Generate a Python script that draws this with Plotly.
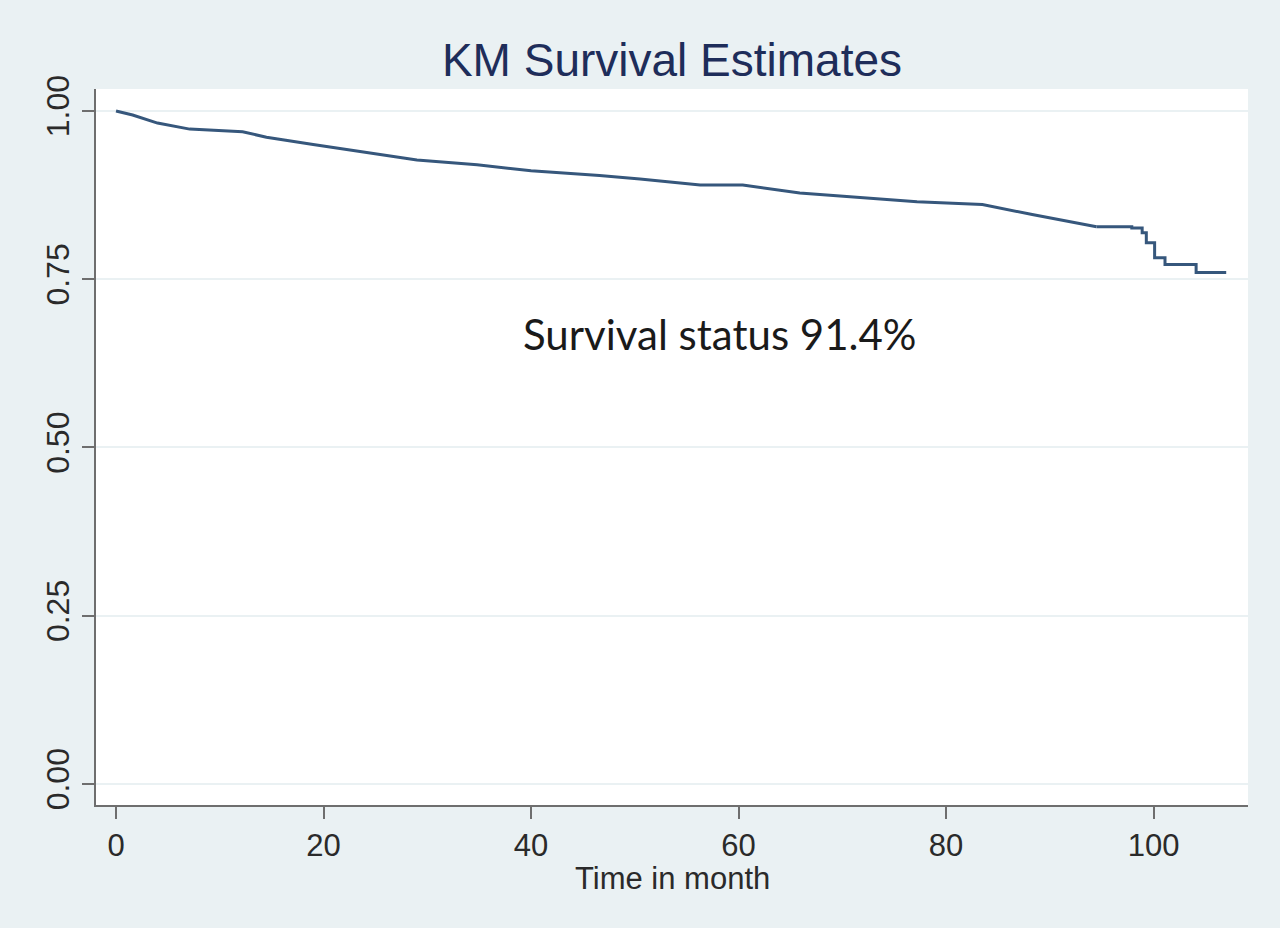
import plotly.graph_objects as go

# KM estimate (months, survival probability)
time_smooth = [0, 1.6, 4.0, 7.1, 12.2, 14.5, 19.0, 24.2, 29.0, 34.8, 40.0, 46.6,
               50.5, 56.3, 60.4, 65.9, 72.4, 77.2, 83.5, 88.3, 94.5]
surv_smooth = [1.0, 0.994, 0.982, 0.973, 0.969, 0.961, 0.950, 0.938, 0.927, 0.920,
               0.911, 0.904, 0.899, 0.890, 0.890, 0.878, 0.871, 0.865, 0.861, 0.846,
               0.828]

# tail where the single steps are visible
time_tail = [94.5, 97.9, 98.9, 99.3, 100.1, 101.1, 104.1, 107.0]
surv_tail = [0.828, 0.826, 0.819, 0.804, 0.782, 0.772, 0.760, 0.760]

x_ticks = [0, 20, 40, 60, 80, 100]
y_ticks = [0, 0.25, 0.5, 0.75, 1.0]

note_text = "Survival status 91.4%"
note_pos = (58.2, 0.668)

bg = "#eaf1f3"
line_col = "#36577c"

fig = go.Figure()
fig.add_trace(go.Scatter(x=time_smooth, y=surv_smooth, mode="lines",
                         line=dict(color=line_col, width=3), showlegend=False))
fig.add_trace(go.Scatter(x=time_tail, y=surv_tail, mode="lines", line_shape="hv",
                         line=dict(color=line_col, width=3), showlegend=False))

fig.add_annotation(x=note_pos[0], y=note_pos[1], text=note_text, showarrow=False,
                   font=dict(family="Lato", size=42, color="#1a1a1a"))

# x axis title placed by hand, it sits closer to the tick labels than plotly allows
fig.add_annotation(x=0.5, y=-0.103, xref="paper", yref="paper", text="Time in month",
                   showarrow=False, yanchor="middle",
                   font=dict(family="Liberation Sans", size=31, color="#2a2a2a"))

fig.update_layout(
    width=1280, height=928,
    paper_bgcolor=bg, plot_bgcolor="white",
    margin=dict(l=96, r=32, t=89, b=123),
    title=dict(text="KM Survival Estimates", x=0.5, xref="paper", xanchor="center",
               y=0.935, yanchor="middle",
               font=dict(family="Liberation Sans", size=46, color="#1e2d5a")),
    font=dict(family="Liberation Sans", color="#2a2a2a"),
)

fig.update_xaxes(range=[-1.93, 109.1], tickvals=x_ticks, showgrid=False,
                 showline=True, linecolor="#6e6e6e", linewidth=2,
                 ticks="outside", ticklen=12, tickwidth=2, tickcolor="#6e6e6e",
                 tickfont=dict(size=31), zeroline=False)
fig.update_yaxes(range=[-0.0312, 1.0326], tickvals=y_ticks, tickformat=".2f",
                 showgrid=True, gridcolor=bg, gridwidth=2,
                 showline=True, linecolor="#6e6e6e", linewidth=2,
                 ticks="outside", ticklen=12, tickwidth=2, tickcolor="#6e6e6e",
                 tickangle=-90, tickfont=dict(size=32), zeroline=False)

# drop the default page margin so the figure sits at the window corner
fig.write_html("out.html", config={"displayModeBar": False},
               post_script="document.body.style.margin='0';")
